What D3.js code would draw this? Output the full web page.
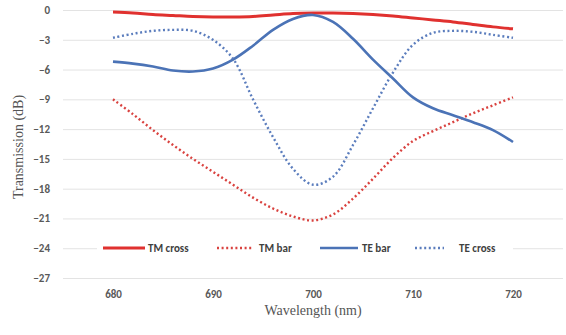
<!DOCTYPE html>
<html><head><meta charset="utf-8">
<script src="https://cdn.jsdelivr.net/npm/d3@7"></script>
<style>
body{margin:0;background:#fff;}
svg{display:block;}
.tick text{font-family:Calibri,Carlito,"Liberation Sans",Arial,sans-serif;font-weight:bold;fill:#595959;font-size:11px;}
</style></head>
<body><svg id="c" width="566" height="335"></svg>
<script>
const wavelength = [680,682,684,686,688,690,692,694,696,698,700,702,704,706,708,710,712,714,716,718,720];
const tmCross = [-0.2,-0.3,-0.45,-0.55,-0.65,-0.7,-0.7,-0.65,-0.5,-0.35,-0.3,-0.3,-0.35,-0.45,-0.6,-0.8,-1.0,-1.2,-1.45,-1.7,-1.9];
const tmBar   = [-9.0,-10.5,-12.1,-13.6,-15.0,-16.3,-17.6,-18.9,-20.0,-20.8,-21.2,-20.6,-19.0,-17.0,-14.9,-13.2,-12.2,-11.3,-10.4,-9.6,-8.8];
const teBar   = [-5.2,-5.4,-5.7,-6.1,-6.2,-5.9,-5.0,-3.6,-2.0,-0.9,-0.5,-1.2,-2.9,-5.0,-6.9,-8.8,-9.9,-10.6,-11.3,-12.1,-13.3];
const teCross = [-2.8,-2.4,-2.1,-2.0,-2.1,-3.0,-4.9,-9.0,-12.8,-16.0,-17.6,-16.8,-13.6,-9.9,-6.3,-3.5,-2.3,-2.1,-2.2,-2.5,-2.8];
const xTicks = [680,690,700,710,720];
const yTicks = [0,-3,-6,-9,-12,-15,-18,-21,-24,-27];
const seriesNames = ["TM cross","TM bar","TE bar","TE cross"];

const svg = d3.select("#c");
const x = d3.scaleLinear().domain([675,725]).range([63,563]);
const y = d3.scaleLinear().domain([0,-27]).range([10,278]);

// gridlines + y labels
const ya = svg.append("g").attr("transform","translate(63,0)")
  .call(d3.axisLeft(y).tickValues(yTicks).tickSize(-500).tickPadding(13).tickFormat(d3.format("d")));
ya.select(".domain").remove();
ya.selectAll(".tick line").attr("stroke","#e3e3e3").attr("stroke-width",1);

const xa = svg.append("g").attr("transform","translate(0,278)")
  .call(d3.axisBottom(x).tickValues(xTicks).tickSize(0).tickPadding(12));
xa.select(".domain").remove();

const styles = [
  {data:tmCross, color:"#e0312f", w:3, dash:null},
  {data:tmBar, color:"#d9423f", w:2.4, dash:"2,2.6"},
  {data:teBar, color:"#4b73b6", w:2.6, dash:null},
  {data:teCross, color:"#5b7dbd", w:2.4, dash:"2,2.6"}
];
const line = d3.line().curve(d3.curveCatmullRom.alpha(0.5));
styles.forEach(s=>{
  const pts = wavelength.map((w,i)=>[x(w), y(s.data[i])]);
  svg.append("path").attr("d", line(pts)).attr("fill","none")
    .attr("stroke", s.color).attr("stroke-width", s.w)
    .attr("stroke-dasharray", s.dash);
});

// legend
const lg = svg.append("g");
lg.append("rect").attr("x",97).attr("y",239).attr("width",416).attr("height",18).attr("fill","#fff");
const legendPos = [[103,145,148],[217,252,259],[320,358,362],[415,444,459]];
seriesNames.forEach((n,i)=>{
  const s = styles[i], p = legendPos[i];
  lg.append("line").attr("x1",p[0]).attr("x2",p[1]).attr("y1",248).attr("y2",248)
    .attr("stroke",s.color).attr("stroke-width",s.w).attr("stroke-dasharray",s.dash);
  lg.append("text").attr("x",p[2]).attr("y",252).text(n)
    .attr("font-family","Calibri,Carlito,'Liberation Sans',Arial,sans-serif")
    .attr("font-weight","bold").attr("font-size","11px").attr("fill","#404040");
});

// axis titles
svg.append("text").attr("x",313).attr("y",315).attr("text-anchor","middle")
  .attr("font-family","'Liberation Serif','Times New Roman',serif").attr("font-size","14px")
  .attr("fill","#555").text("Wavelength (nm)");
svg.append("text").attr("transform","translate(23,147) rotate(-90)").attr("text-anchor","middle")
  .attr("font-family","'Liberation Serif','Times New Roman',serif").attr("font-size","14px")
  .attr("fill","#555").text("Transmission (dB)");
</script></body></html>
